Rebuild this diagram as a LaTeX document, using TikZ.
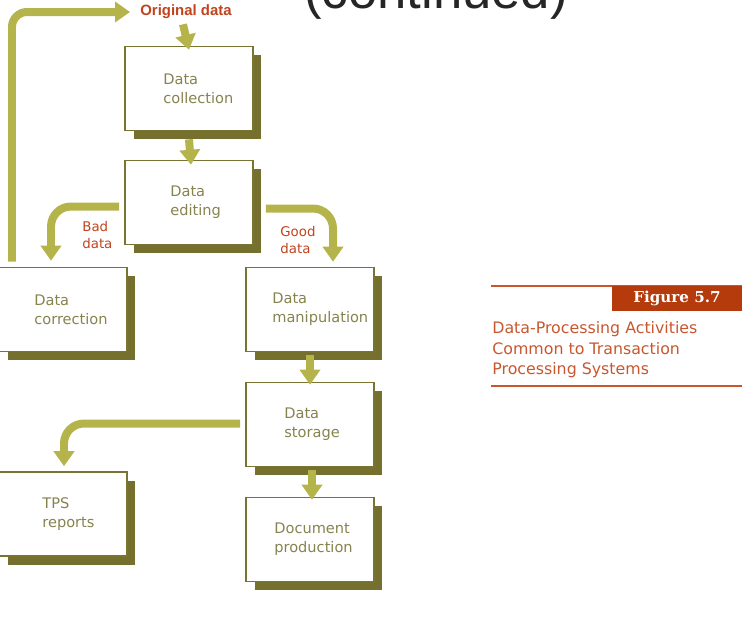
\documentclass[tikz,border=0pt]{standalone}
\usepackage{fontspec}
\setmainfont{DejaVu Sans}
\newfontfamily\arialfont{Liberation Sans}
\newfontfamily\slabfont{DejaVu Serif}
\usetikzlibrary{arrows.meta,shadows}
\definecolor{boxline}{HTML}{7A7432}
\definecolor{boxshade}{HTML}{76702E}
\definecolor{boxtext}{HTML}{87834F}
\definecolor{flowgreen}{HTML}{B5B44B}
\definecolor{labelred}{HTML}{C0431E}
\definecolor{capred}{HTML}{C8572F}
\definecolor{bannerred}{HTML}{B53A0C}
\begin{document}
\begin{tikzpicture}[x=0.02cm,y=-0.02cm,
    procbox/.style={draw=boxline,line width=0.9pt,fill=white,minimum width=2.56cm,minimum height=1.68cm,inner sep=0pt,
      general shadow={fill=boxshade,shadow xshift=0.17cm,shadow yshift=-0.17cm}},
    proctext/.style={anchor=west,align=left,inner sep=0pt,text=boxtext,font=\fontsize{8.3}{10.8}\selectfont},
    datalabel/.style={anchor=west,align=left,inner sep=0pt,text=labelred,font=\fontsize{7.6}{10.2}\selectfont},
    flow/.style={draw=flowgreen,line width=0.16cm,-{Triangle[width=0.4cm,length=0.3cm]}}]
                        \useasboundingbox (0,0) rectangle (748,620);
                        \clip (0,0) rectangle (748,620);

                        % Heading cut at the top
                        \node[anchor=base,inner sep=0pt,text=black!85,font=\arialfont\fontsize{30}{36}\selectfont] (cont) at (436,8) {(continued)};%

                        % Label Original data
                        \node[inner sep=0pt,text=labelred,font=\arialfont\bfseries\fontsize{8.5}{10}\selectfont] (orig) at (186,12) {Original data};%

                        % Drawing boxes with their shadows
                        \node[procbox] (collect) at (189,88.5) {};%
                        \node[procbox] (edit) at (189,202.5) {};%
                        \node[procbox] (corr) at (63,309.5) {};%
                        \node[procbox] (manip) at (310,309.5) {};%
                        \node[procbox] (store) at (310,424.5) {};%
                        \node[procbox] (tps) at (63,514) {};%
                        \node[procbox] (doc) at (310,539.5) {};%

                        % Writing box texts
                        \node[proctext] (collect-t) at ([shift={(-26,0)}]collect.center) {Data\\collection};%
                        \node[proctext] (edit-t) at ([shift={(-19,0)}]edit.center) {Data\\editing};%
                        \node[proctext] (corr-t) at ([shift={(-29,0)}]corr.center) {Data\\correction};%
                        \node[proctext] (manip-t) at ([shift={(-38,0)}]manip.center) {Data\\manipulation};%
                        \node[proctext] (store-t) at ([shift={(-26,0)}]store.center) {Data\\storage};%
                        \node[proctext] (tps-t) at ([shift={(-21,0)}]tps.center) {TPS\\reports};%
                        \node[proctext] (doc-t) at ([shift={(-36,0)}]doc.center) {Document\\production};%

                        % Labels Bad data and Good data
                        \node[datalabel] (bad) at (82,235) {Bad\\data};%
                        \node[datalabel] (good) at (280,240) {Good\\data};%

                        % Drawing flow arrows
                        \draw[flow] ([shift={(-3,5)}]orig.south) -- ([shift={(0,4)}]collect.north);%
                        \draw[flow] ([shift={(0,8)}]collect.south) -- ([shift={(2,5)}]edit.north);%
                        \draw[flow,rounded corners=0.4cm] ([shift={(-5,4)}]edit.west) -| ([shift={(-12,-6)}]corr.north);%
                        \draw[flow,rounded corners=0.4cm] ([shift={(12,6)}]edit.east) -| ([shift={(23,-5)}]manip.north);%
                        \draw[flow,rounded corners=0.3cm] ([shift={(-51,-5)}]corr.north) |- ([shift={(-10,0)}]orig.west);%
                        \draw[flow] ([shift={(0,3)}]manip.south) -- ([shift={(0,3)}]store.north);%
                        \draw[flow,rounded corners=0.4cm] ([shift={(-5,-1)}]store.west) -| ([shift={(1,-5)}]tps.north);%
                        \draw[flow] ([shift={(2,3)}]store.south) -- ([shift={(2,3)}]doc.north);%

                        % Figure caption
                        \draw[capred,line width=0.85pt] (491,286) -- (742,286);%
                        \node[fill=bannerred,minimum width=2.6cm,minimum height=0.5cm,inner sep=0pt,text=white,font=\slabfont\bfseries\fontsize{8.6}{10}\selectfont] (fig) at (677,298.5) {Figure 5.7};%
                        \node[anchor=west,align=left,inner sep=0pt,text=capred,font=\fontsize{9}{11.6}\selectfont] (cap) at (492,350) {Data-Processing Activities\\Common to Transaction\\Processing Systems};%
                        \draw[capred,line width=0.85pt] (491,386) -- (742,386);%
                    \end{tikzpicture}
\end{document}
